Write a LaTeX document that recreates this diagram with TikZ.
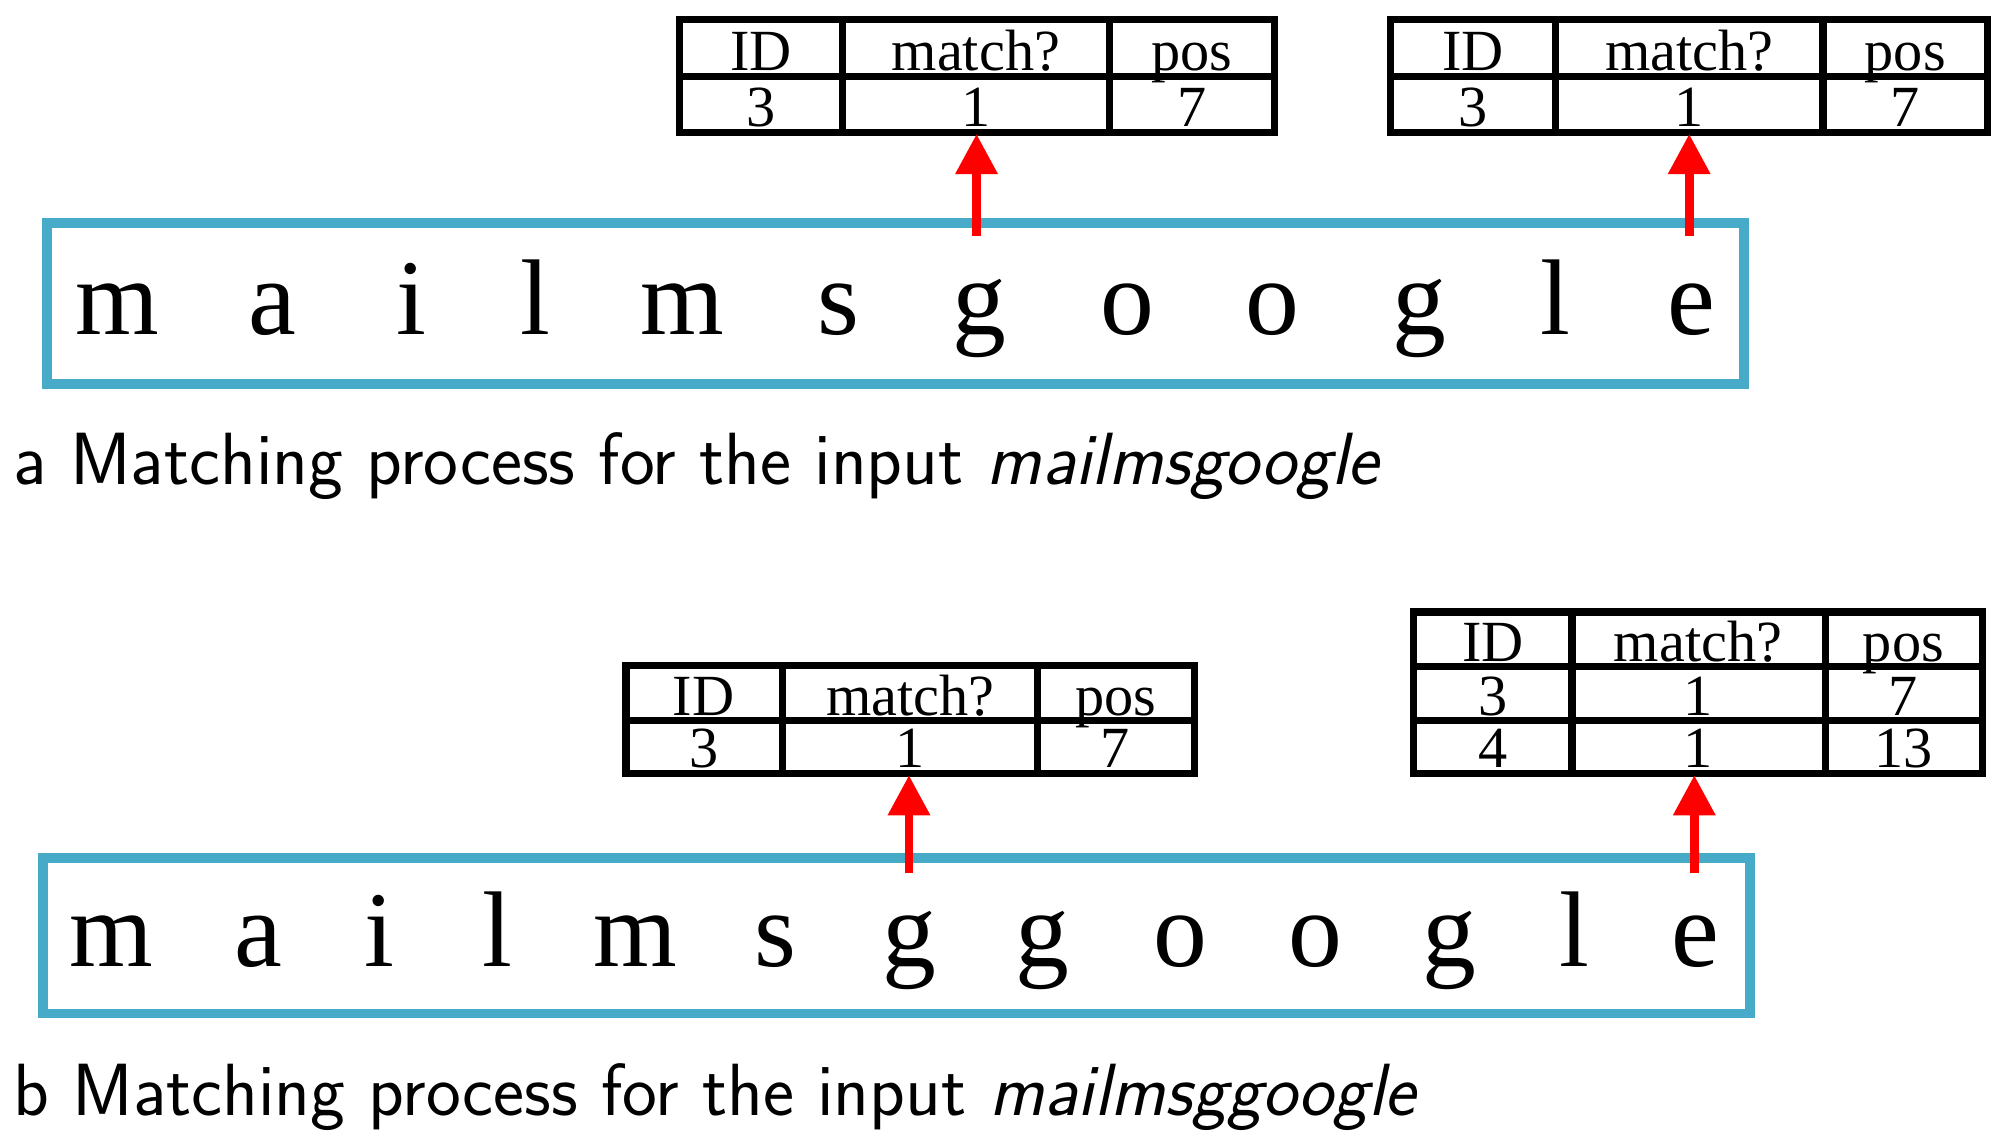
\documentclass[tikz,border=0pt]{standalone}
\usepackage{fontspec}
\setmainfont{Liberation Serif}
\newfontfamily\capf{Latin Modern Sans}
\usetikzlibrary{arrows.meta}
\begin{document}
\begin{tikzpicture}[x=0.01cm,y=-0.01cm,
  tb/.style={line width=1.6pt},
  bx/.style={draw={rgb,255:red,70;green,170;blue,200},line width=2.2pt},
  cell/.style={font=\fontsize{13}{13}\selectfont,inner sep=0pt,anchor=base},
  let/.style={font=\fontsize{24}{24}\selectfont,inner sep=0pt,anchor=base},
  arr/.style={draw=red,line width=2pt,-{Triangle[length=9pt,width=9pt]}},
  captxt/.style={font=\capf\fontsize{16.5}{16.5}\selectfont,anchor=base west,inner sep=0pt}]
\useasboundingbox (0,0) rectangle (1568,897);
% ---- part a
\draw[bx] (37,175) rectangle (1368,301);
\foreach \c/\x [count=\i] in {m/92,a/214,i/323,l/420,m/535,s/658,g/768,o/884,o/998,g/1113,l/1220,e/1327}
  \node[let] (a\i) at (\x,262) {\c};
% tables a
\foreach \t/\xa/\xb/\xc/\xd in {ta1/533/661/870/1000,ta2/1091/1220/1430/1559}{
  \draw[tb] (\xa,15) rectangle (\xd,104);
  \draw[tb] (\xa,60)--(\xd,60) (\xb,15)--(\xb,104) (\xc,15)--(\xc,104);
  \node[cell] (\t h1) at ({(\xa+\xb)/2},55) {ID};
  \node[cell] (\t h2) at ({(\xb+\xc)/2},55) {match?};
  \node[cell] (\t h3) at ({(\xc+\xd)/2},55) {pos};
  \node[cell] (\t r1) at ({(\xa+\xb)/2},99) {3};
  \node[cell] (\t r2) at ({(\xb+\xc)/2},99) {1};
  \node[cell] (\t r3) at ({(\xc+\xd)/2},99) {7};
}
\coordinate (sa1) at (766,185); \coordinate (sa2) at (1325,185);
\coordinate (ea1) at (766,105); \coordinate (ea2) at (1325,105);
\draw[arr] (sa1) -- (ea1);
\draw[arr] (sa2) -- (ea2);
\node[captxt] (capa) at (10,380) {a Matching process for the input \textit{mailmsgoogle}};
% ---- part b
\draw[bx] (34,673) rectangle (1373,795);
\foreach \c/\x [count=\i] in {m/87,a/203,i/298,l/390,m/498,s/608,g/713,g/818,o/926,o/1032,g/1137,l/1235,e/1330}
  \node[let] (b\i) at (\x,758) {\c};
\draw[tb] (491,522) rectangle (937,607);
\draw[tb] (491,565)--(937,565) (614,522)--(614,607) (814,522)--(814,607);
\node[cell] (tb1h1) at (552,561) {ID};
\node[cell] (tb1h2) at (714,561) {match?};
\node[cell] (tb1h3) at (875,561) {pos};
\node[cell] (tb1r1) at (552,602) {3};
\node[cell] (tb1r2) at (714,602) {1};
\node[cell] (tb1r3) at (875,602) {7};
\draw[tb] (1109,480) rectangle (1555,607);
\draw[tb] (1109,523)--(1555,523) (1109,565)--(1555,565) (1233,480)--(1233,607) (1432,480)--(1432,607);
\node[cell] (tb2h1) at (1171,519) {ID};
\node[cell] (tb2h2) at (1332,519) {match?};
\node[cell] (tb2h3) at (1493,519) {pos};
\node[cell] (tb2r1) at (1171,561) {3};
\node[cell] (tb2r2) at (1332,561) {1};
\node[cell] (tb2r3) at (1493,561) {7};
\node[cell] (tb2s1) at (1171,602) {4};
\node[cell] (tb2s2) at (1332,602) {1};
\node[cell] (tb2s3) at (1493,602) {13};
\coordinate (sb1) at (713,685); \coordinate (sb2) at (1329,685);
\coordinate (eb1) at (713,608); \coordinate (eb2) at (1329,608);
\draw[arr] (sb1) -- (eb1);
\draw[arr] (sb2) -- (eb2);
\node[captxt] (capb) at (10,875) {b Matching process for the input \textit{mailmsggoogle}};
\end{tikzpicture}
\end{document}
